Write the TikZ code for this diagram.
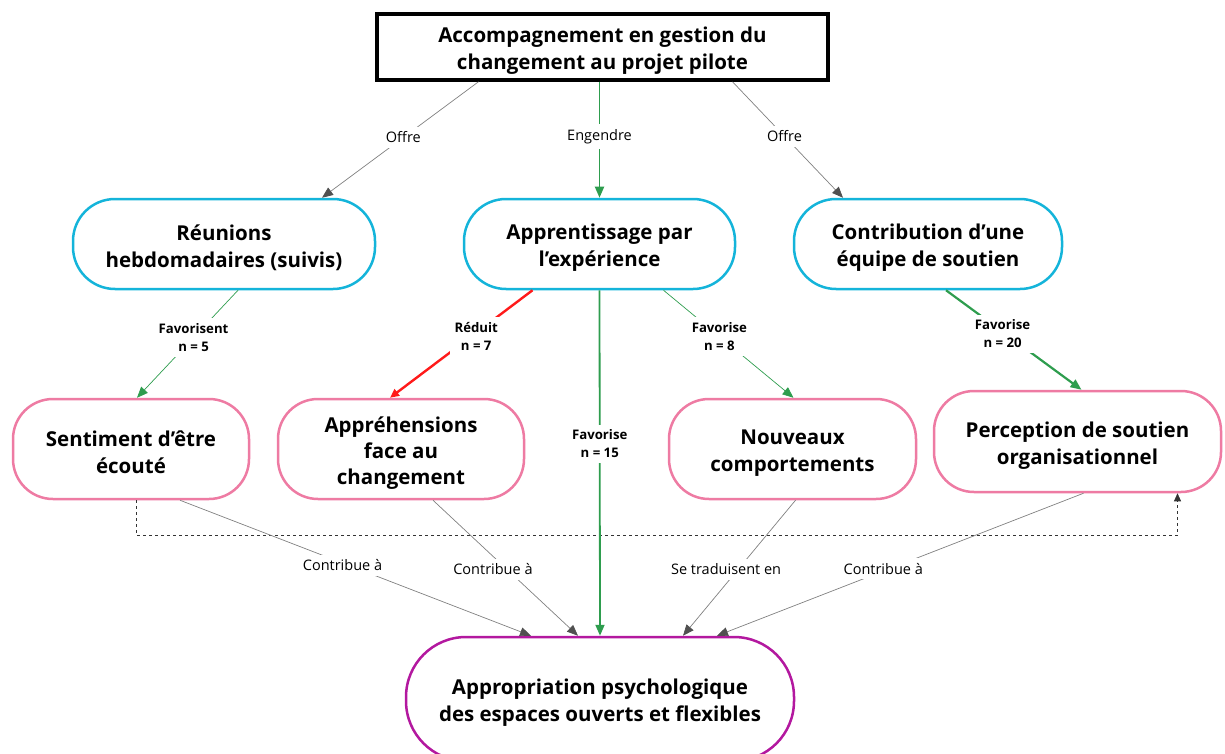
\documentclass[tikz,border=0pt]{standalone}
\usepackage{fontspec}
\setmainfont{Open Sans}
\usepackage{xcolor}
\usetikzlibrary{arrows.meta}

\definecolor{boxBlue}{HTML}{14B4DA}
\definecolor{boxPink}{HTML}{EE7BA3}
\definecolor{boxPurple}{HTML}{B3189F}
\definecolor{lineGreen}{HTML}{2E9D4E}
\definecolor{lineRed}{HTML}{FF1A1A}
\definecolor{lineGray}{HTML}{808080}
\definecolor{tipGray}{HTML}{505050}

\newcommand{\boxStrut}{\rule{0pt}{23pt}}

\begin{document}
\begin{tikzpicture}
[x=1pt, y=-1pt,
 boxText/.style={font=\fontsize{20.5}{27}\selectfont\bfseries, align=center, text=black, fill=white},
 topDecorate/.style={boxText, shape=rectangle, draw=black, line width=3.5pt, minimum width=451pt, minimum height=66pt},
 blueDecorate/.style={boxText, shape=rectangle, draw=boxBlue, line width=2.5pt, rounded corners=42pt, minimum height=90pt},
 pinkDecorate/.style={boxText, shape=rectangle, draw=boxPink, line width=2.5pt, rounded corners=40pt, minimum height=100pt},
 goalDecorate/.style={boxText, shape=rectangle, draw=boxPurple, line width=2.5pt, rounded corners=60pt, minimum width=388pt, minimum height=124pt},
 grayLine/.style={draw=lineGray, line width=0.7pt, -{Triangle[length=11pt,width=9pt,color=tipGray]}},
 greenLine/.style={draw=lineGreen, -{Triangle[length=11pt,width=9pt]}},
 redLine/.style={draw=lineRed, line width=2.4pt, -{Triangle[length=9pt,width=8pt]}},
 dashLine/.style={draw=black!80, dashed, line width=0.6pt, -{Triangle[length=8pt,width=7pt]}},
 labelDecorate/.style={font=\fontsize{14.5}{18}\selectfont, fill=white, text=black, inner sep=5pt},
 countDecorate/.style={font=\fontsize{13.2}{18}\selectfont\bfseries, align=center, fill=white, text=black, inner sep=5pt}]

\useasboundingbox (0,0) rectangle (1225,754);

% nodes
\node (acc) at (602.5,47) [topDecorate] {\boxStrut Accompagnement en gestion du\\changement au projet pilote};

\node (reu) at (224,244) [blueDecorate, minimum width=302pt] {\boxStrut Réunions\\hebdomadaires (suivis)};
\node (app) at (599.5,244) [blueDecorate, minimum width=271pt] {\boxStrut Apprentissage par\\l’expérience};
\node (con) at (928,244) [blueDecorate, minimum width=268pt] {\boxStrut Contribution d’une\\équipe de soutien};

\node (sen) at (131,449) [pinkDecorate, minimum width=236pt] {\boxStrut Sentiment d’être\\écouté};
\node (apr) at (401,449) [pinkDecorate, minimum width=246pt, font=\fontsize{20.5}{26}\selectfont\bfseries] {\boxStrut Appréhensions\\face au\\changement};
\node (nou) at (792.5,449) [pinkDecorate, minimum width=247pt] {\boxStrut Nouveaux\\comportements};
\node (per) at (1077.5,441.5) [pinkDecorate, minimum width=287pt, minimum height=101pt] {\boxStrut Perception de soutien\\organisationnel};

\node (psy) at (600,699) [goalDecorate] {\boxStrut Appropriation psychologique\\des espaces ouverts et flexibles};

% dashed link
\draw[dashLine] ([xshift=5pt]sen.south) -- ++(0,35) -| ([xshift=100pt]per.south);

% links
\path
([xshift=-124pt]acc.south) edge[grayLine] node[labelDecorate, pos=0.48] {Offre} ([xshift=98pt]reu.north)
([xshift=-3pt]acc.south) edge[greenLine, line width=1.8pt] node[labelDecorate, pos=0.47] {Engendre} (app.north)
([xshift=130pt]acc.south) edge[grayLine] node[labelDecorate, pos=0.47] {Offre} ([xshift=-85pt]con.north)

([xshift=14pt]reu.south) edge[greenLine, line width=0.7pt] node[countDecorate, pos=0.44] {Favorisent\\n = 5} ([xshift=6pt]sen.north)
([xshift=-67pt]app.south) edge[redLine] node[countDecorate, pos=0.43, xshift=5pt] {Réduit\\n = 7} ([xshift=-11pt]apr.north)
(app.south) edge[greenLine, line width=1.8pt] node[countDecorate, pos=0.445] {Favorise\\n = 15} (psy.north)
([xshift=64pt]app.south) edge[greenLine, line width=0.7pt] node[countDecorate, pos=0.43] {Favorise\\n = 8} ([xshift=1pt]nou.north)
([xshift=18pt]con.south) edge[greenLine, line width=2.2pt] node[countDecorate, pos=0.44, xshift=-3pt] {Favorise\\n = 20} ([xshift=4pt]per.north)

([xshift=49pt]sen.south) edge[grayLine] node[labelDecorate, pos=0.48, xshift=-6pt] {Contribue à} ([xshift=-69pt]psy.north)
([xshift=32pt]apr.south) edge[grayLine] node[labelDecorate, pos=0.51, xshift=-14pt] {Contribue à} ([xshift=-22pt]psy.north)
([xshift=3pt]nou.south) edge[grayLine] node[labelDecorate, pos=0.51, xshift=-12pt] {Se traduisent en} ([xshift=83pt]psy.north)
([xshift=6pt]per.south) edge[grayLine] node[labelDecorate, pos=0.53, xshift=-6pt] {Contribue à} ([xshift=117pt]psy.north);
\end{tikzpicture}
\end{document}
